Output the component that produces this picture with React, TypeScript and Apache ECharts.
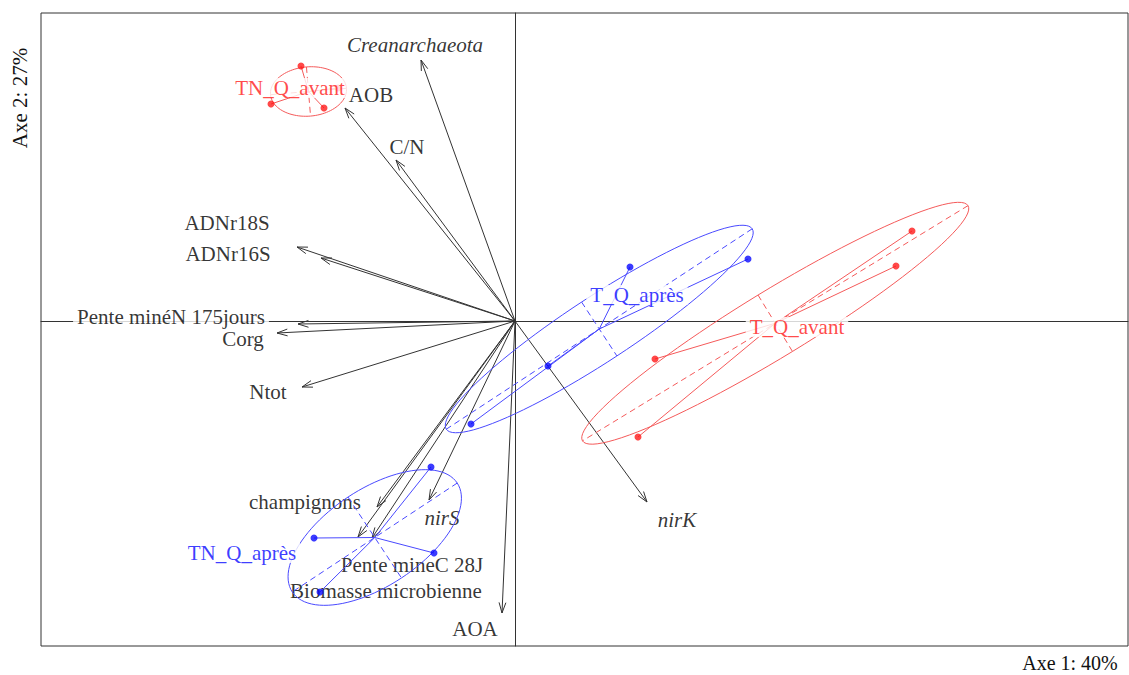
import { useEffect, useRef } from "react";
import * as echarts from "echarts";

// ---- Variables (arrows) : coordinates of arrow tips on axes 1 and 2 ----
const varNames = [
  "Creanarchaeota",
  "AOB",
  "C/N",
  "ADNr18S",
  "ADNr16S",
  "Pente minéN 175jours",
  "Corg",
  "Ntot",
  "champignons",
  "Pente mineC 28J",
  "Biomasse microbienne",
  "nirS",
  "AOA",
  "nirK",
];
const varX = [-0.94, -1.7, -1.19, -2.18, -1.94, -2.17, -2.38, -2.13, -1.38, -1.43, -1.57, -0.86, -0.13, 1.32];
const varY = [2.61, 2.13, 1.61, 0.74, 0.63, -0.03, -0.12, -0.66, -1.86, -2.17, -2.16, -1.79, -2.92, -1.81];
const varLabelX = [-1.0, -1.44, -1.08, -2.88, -2.87, -3.44, -2.72, -2.47, -2.1, -1.03, -1.29, -0.73, -0.4, 1.62];
const varLabelY = [2.76, 2.26, 1.74, 0.98, 0.67, 0.04, -0.18, -0.71, -1.81, -2.44, -2.7, -1.97, -3.08, -1.99];
const varItalic = [true, false, false, false, false, false, false, false, false, false, false, true, false, true];

// ---- Sample scores per class ----
const tnQAvantX = [-2.14, -2.44, -1.91, -1.77];
const tnQAvantY = [2.55, 2.17, 2.13, 2.33];
const tQApresX = [1.15, 2.33, 0.33, -0.44];
const tQApresY = [0.54, 0.62, -0.45, -1.03];
const tnQApresX = [-0.84, -2.01, -0.81, -1.95];
const tnQApresY = [-1.46, -2.17, -2.32, -2.71];
const tQAvantX = [3.97, 3.81, 1.4, 1.23];
const tQAvantY = [0.9, 0.55, -0.38, -1.16];

const groupNames = ["TN_Q_avant", "T_Q_après", "TN_Q_après", "T_Q_avant"];
const groupLabelX = [-2.25, 1.22, -2.73, 2.82];
const groupLabelY = [2.33, 0.26, -2.32, -0.06];
const ellipseCoeff = 1.5;

const axisTitleX = "Axe 1: 40%";
const axisTitleY = "Axe 2: 27%";

// ---- styles ----
const FONT = "'Liberation Serif', 'Times New Roman', serif";
const RED = "#ff1a1a";
const RED_LINE = "#f55a5a";
const BLUE = "#0a0aff";
const BLUE_LINE = "#4a4aff";
const groupPointColor = [RED, BLUE, BLUE, RED];
const groupLineColor = [RED_LINE, BLUE_LINE, BLUE_LINE, RED_LINE];

const groups = [
  { xs: tnQAvantX, ys: tnQAvantY },
  { xs: tQApresX, ys: tQApresY },
  { xs: tnQApresX, ys: tnQApresY },
  { xs: tQAvantX, ys: tQAvantY },
];
const mean = (a: number[]) => a.reduce((s, v) => s + v, 0) / a.length;

// inertia ellipse of a class (as in ade4 s.class, util.ellipse)
function classEllipse(xs: number[], ys: number[], coeff: number) {
  const n = xs.length;
  const mx = mean(xs);
  const my = mean(ys);
  let vx = 0, vy = 0, cxy = 0;
  for (let i = 0; i < n; i++) {
    vx += (xs[i] - mx) ** 2 / n;
    vy += (ys[i] - my) ** 2 / n;
    cxy += ((xs[i] - mx) * (ys[i] - my)) / n;
  }
  const delta = Math.sqrt((vx - vy) * (vx - vy) + 4 * cxy * cxy);
  let e1 = (vx + vy + delta) / 2;
  let e2 = vx + vy - e1;
  if (e1 < 0) e1 = 0;
  if (e2 < 0) e2 = 0;
  const l1 = Math.sqrt(e1);
  const l2 = Math.sqrt(e2);
  let a0 = 1, b0 = 0;
  if (Math.abs(cxy) < 1e-10) {
    if (vx >= vy) { a0 = 1; b0 = 0; } else { a0 = 0; b0 = 1; }
  } else {
    a0 = 1;
    b0 = (e1 - vx) / cxy;
    const nm = Math.sqrt(a0 * a0 + b0 * b0);
    a0 /= nm;
    b0 /= nm;
  }
  return {
    mx,
    my,
    c11: coeff * a0 * l1,
    c12: -coeff * b0 * l2,
    c21: coeff * b0 * l1,
    c22: coeff * a0 * l2,
  };
}

export default function App() {
  const ref = useRef<HTMLDivElement>(null);
  useEffect(() => {
    if (!ref.current) return;
    const chart = echarts.init(ref.current, null, { renderer: "svg" });

    const arrowData = varX.map((x, i) => [x, varY[i]]);
    const varLabelData = varNames.map((n, i) => ({
      name: n,
      value: [varLabelX[i], varLabelY[i]],
      label: { fontStyle: varItalic[i] ? "italic" : "normal" },
    }));
    const groupData = groups.map((g, i) => [mean(g.xs), mean(g.ys), i]);
    const pointData: any[] = [];
    groups.forEach((g, i) =>
      g.xs.forEach((x, j) =>
        pointData.push({ value: [x, g.ys[j]], itemStyle: { color: groupPointColor[i] } })
      )
    );
    const groupLabelData = groupNames.map((n, i) => ({
      name: n,
      value: [groupLabelX[i], groupLabelY[i]],
      label: { color: groupPointColor[i] },
    }));

    const option: any = {
      animation: false,
      grid: {
        left: 41,
        top: 13,
        right: 1,
        bottom: 29,
        show: true,
        borderColor: "#333",
        borderWidth: 1,
        backgroundColor: "#fff",
      },
      xAxis: {
        type: "value",
        min: -4.74,
        max: 6.13,
        axisLine: { show: true, onZero: true, lineStyle: { color: "#333", width: 1 } },
        axisTick: { show: false },
        axisLabel: { show: false },
        splitLine: { show: false },
      },
      yAxis: {
        type: "value",
        min: -3.25,
        max: 3.08,
        axisLine: { show: true, onZero: true, lineStyle: { color: "#333", width: 1 } },
        axisTick: { show: false },
        axisLabel: { show: false },
        splitLine: { show: false },
      },
      graphic: [
        {
          type: "text",
          x: 1070,
          y: 663,
          style: {
            text: axisTitleX,
            font: `20px ${FONT}`,
            fill: "#111",
            textAlign: "center",
            textVerticalAlign: "middle",
          },
        },
        {
          type: "text",
          x: 20,
          y: 98,
          rotation: Math.PI / 2,
          style: {
            text: axisTitleY,
            font: `21px ${FONT}`,
            fill: "#111",
            textAlign: "center",
            textVerticalAlign: "middle",
          },
        },
      ],
      series: [
        {
          type: "custom",
          name: "arrows",
          coordinateSystem: "cartesian2d",
          silent: true,
          z: 2,
          encode: { x: 0, y: 1 },
          data: arrowData,
          renderItem: (params: any, api: any) => {
            const o = api.coord([0, 0]);
            const t = api.coord([api.value(0), api.value(1)]);
            const ang = Math.atan2(t[1] - o[1], t[0] - o[0]);
            const L = 11;
            const A = Math.PI / 10;
            const p1 = [t[0] - L * Math.cos(ang - A), t[1] - L * Math.sin(ang - A)];
            const p2 = [t[0] - L * Math.cos(ang + A), t[1] - L * Math.sin(ang + A)];
            return {
              type: "group",
              children: [
                {
                  type: "line",
                  shape: { x1: o[0], y1: o[1], x2: t[0], y2: t[1] },
                  style: { stroke: "#333", lineWidth: 1 },
                },
                {
                  type: "polyline",
                  shape: { points: [p1, t, p2] },
                  style: { stroke: "#333", fill: "none", lineWidth: 1 },
                },
              ],
            };
          },
        },
        {
          type: "scatter",
          name: "varLabels",
          silent: true,
          z: 3,
          symbolSize: 1,
          itemStyle: { color: "rgba(0,0,0,0)" },
          data: varLabelData,
          labelLayout: { hideOverlap: false },
          label: {
            show: true,
            position: "inside",
            formatter: "{b}",
            color: "#000",
            fontSize: 21,
            fontFamily: FONT,
            backgroundColor: "#fff",
            padding: [0, 4],
            lineHeight: 20,
          },
        },
        {
          type: "custom",
          name: "classes",
          coordinateSystem: "cartesian2d",
          silent: true,
          z: 4,
          encode: { x: 0, y: 1 },
          data: groupData,
          renderItem: (params: any, api: any) => {
            const i = params.dataIndex;
            const g = groups[i];
            const e = classEllipse(g.xs, g.ys, ellipseCoeff);
            const C = api.coord([e.mx, e.my]);
            const col = groupLineColor[i];
            const pts: number[][] = [];
            const N = 100;
            for (let k = 0; k <= N; k++) {
              const t = (2 * Math.PI * k) / N;
              pts.push(
                api.coord([
                  e.mx + e.c11 * Math.cos(t) + e.c12 * Math.sin(t),
                  e.my + e.c21 * Math.cos(t) + e.c22 * Math.sin(t),
                ])
              );
            }
            const children: any[] = [
              { type: "polyline", shape: { points: pts }, style: { stroke: col, fill: "none", lineWidth: 1 } },
            ];
            [
              [e.c11, e.c21],
              [e.c12, e.c22],
            ].forEach(([vx, vy]) => {
              const p1 = api.coord([e.mx + vx, e.my + vy]);
              const p2 = api.coord([e.mx - vx, e.my - vy]);
              children.push({
                type: "line",
                shape: { x1: p1[0], y1: p1[1], x2: p2[0], y2: p2[1] },
                style: { stroke: col, lineWidth: 1, lineDash: [6, 4] },
              });
            });
            g.xs.forEach((x, j) => {
              const p = api.coord([x, g.ys[j]]);
              children.push({
                type: "line",
                shape: { x1: p[0], y1: p[1], x2: C[0], y2: C[1] },
                style: { stroke: col, lineWidth: 1 },
              });
            });
            return { type: "group", children };
          },
        },
        {
          type: "scatter",
          name: "samples",
          silent: true,
          z: 5,
          symbolSize: 7,
          data: pointData,
        },
        {
          type: "scatter",
          name: "classLabels",
          silent: true,
          z: 6,
          symbolSize: 1,
          itemStyle: { color: "rgba(0,0,0,0)" },
          data: groupLabelData,
          labelLayout: { hideOverlap: false },
          label: {
            show: true,
            position: "inside",
            formatter: "{b}",
            fontSize: 21,
            fontFamily: FONT,
            backgroundColor: "#fff",
            padding: [0, 4],
            lineHeight: 20,
          },
        },
      ],
    };
    chart.setOption(option);
    return () => chart.dispose();
  }, []);

  return (
    <div
      ref={ref}
      style={{ position: "fixed", left: 0, top: 0, width: 1129, height: 675, background: "#fff" }}
    />
  );
}
